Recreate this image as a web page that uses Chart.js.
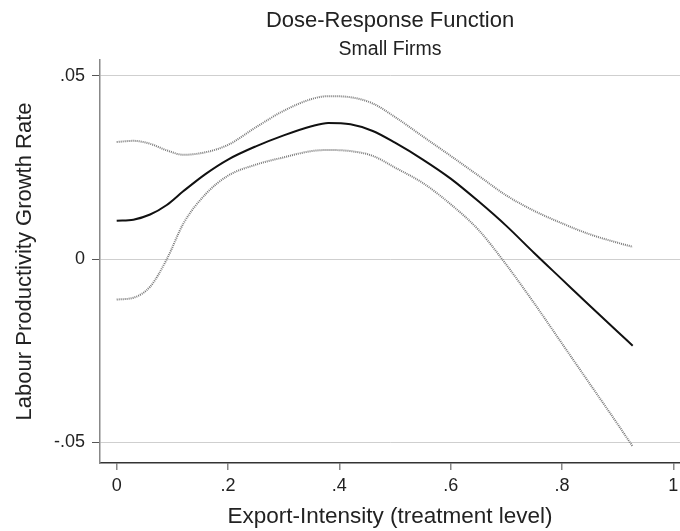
<!DOCTYPE html>
<html>
<head>
<meta charset="utf-8">
<script src="https://cdn.jsdelivr.net/npm/chart.js@4"></script>
<style>
  html, body { margin: 0; padding: 0; background: #fff; }
  #wrap { width: 680px; height: 531px; }
</style>
</head>
<body>
<div id="wrap"><canvas id="doseChart"></canvas></div>
<script>
// treatment levels shared by all three curves
const treatment = [0, 0.03, 0.06, 0.09, 0.12, 0.16, 0.2, 0.25, 0.3, 0.35, 0.38, 0.42,
                   0.46, 0.5, 0.55, 0.6, 0.65, 0.7, 0.75, 0.8, 0.85, 0.9, 0.927];

const doseResponse = [0.0105, 0.0108, 0.0122, 0.0148, 0.0186, 0.0233, 0.0272, 0.0308,
                      0.0338, 0.0363, 0.0372, 0.0368, 0.0350, 0.0318, 0.0272, 0.0220,
                      0.0158, 0.0091, 0.0017, -0.0055, -0.0127, -0.0198, -0.0236];

const upperBound = [0.0320, 0.0323, 0.0315, 0.0297, 0.0285, 0.0292, 0.0312, 0.0360,
                    0.0405, 0.0437, 0.0445, 0.0442, 0.0425, 0.0388, 0.0335, 0.0282,
                    0.0228, 0.0174, 0.0132, 0.0098, 0.0068, 0.0045, 0.0034];

const lowerBound = [-0.0110, -0.0105, -0.0075, 0.0000, 0.0098, 0.0178, 0.0228, 0.0258,
                    0.0278, 0.0295, 0.0298, 0.0295, 0.0282, 0.0250, 0.0208, 0.0150,
                    0.0080, -0.0015, -0.0120, -0.0230, -0.0340, -0.0450, -0.0511];

const xTicks = [0, 0.2, 0.4, 0.6, 0.8, 1];
const yTicks = [-0.05, 0, 0.05];

const fmt = v => {
    if (Math.abs(v) < 1e-9) return '0';
    let s = String(+v.toFixed(3));
    return s.replace('0.', '.');
};

const toPoints = ys => treatment.map((x, i) => ({ x: x, y: ys[i] }));

Chart.defaults.font.family = 'Liberation Sans, Arial, sans-serif';
Chart.defaults.color = '#222';

const ctx = document.getElementById('doseChart').getContext('2d');

new Chart(ctx, {
    type: 'line',
    data: {
        datasets: [
            {
                label: 'Upper',
                data: toPoints(upperBound),
                borderColor: '#7a7a7a',
                borderWidth: 2,
                borderDash: [1, 1],
                pointRadius: 0,
                cubicInterpolationMode: 'monotone'
            },
            {
                label: 'Dose-Response',
                data: toPoints(doseResponse),
                borderColor: '#111',
                borderWidth: 2,
                pointRadius: 0,
                cubicInterpolationMode: 'monotone'
            },
            {
                label: 'Lower',
                data: toPoints(lowerBound),
                borderColor: '#7a7a7a',
                borderWidth: 2,
                borderDash: [1, 1],
                pointRadius: 0,
                cubicInterpolationMode: 'monotone'
            }
        ]
    },
    options: {
        responsive: true,
        maintainAspectRatio: false,
        animation: false,
        layout: { padding: 0 },
        plugins: {
            legend: { display: false },
            tooltip: { enabled: false },
            title: {
                display: true,
                fullSize: false,
                text: 'Dose-Response Function',
                color: '#222',
                font: { size: 22, weight: 'normal', lineHeight: 1.2 },
                padding: { top: 8, bottom: 4 }
            },
            subtitle: {
                display: true,
                fullSize: false,
                text: 'Small Firms',
                color: '#222',
                font: { size: 19.5, weight: 'normal', lineHeight: 1.1 },
                padding: { top: 0, bottom: 0 }
            }
        },
        scales: {
            x: {
                type: 'linear',
                min: -0.03,
                max: 1.012,
                afterFit: s => {
                    s.height = 68;
                    s.paddingLeft = 0;
                    s.paddingRight = 0;
                },
                afterBuildTicks: s => { s.ticks = xTicks.map(v => ({ value: v })); },
                ticks: {
                    callback: v => fmt(v),
                    font: { size: 18 },
                    color: '#222',
                    padding: 5
                },
                grid: {
                    drawOnChartArea: false,
                    drawTicks: true,
                    tickLength: 7,
                    tickColor: '#888',
                    lineWidth: 1.5
                },
                border: { color: '#333', width: 1.5 },
                title: {
                    display: true,
                    text: 'Export-Intensity (treatment level)',
                    color: '#222',
                    font: { size: 22.5, lineHeight: 1.2 },
                    padding: { top: 0, bottom: 1 }
                }
            },
            y: {
                min: -0.0556,
                max: 0.0544,
                afterFit: s => { s.width = 100; },
                afterBuildTicks: s => { s.ticks = yTicks.map(v => ({ value: v })); },
                ticks: {
                    callback: v => fmt(v),
                    font: { size: 18 },
                    color: '#222',
                    padding: 7
                },
                grid: {
                    color: '#cfcfcf',
                    lineWidth: 1,
                    tickLength: 8,
                    tickColor: '#555'
                },
                border: { color: '#888', width: 1.5 },
                title: {
                    display: true,
                    text: 'Labour Productivity Growth Rate',
                    color: '#222',
                    font: { size: 22, lineHeight: 1.2 },
                    padding: { top: 12, bottom: 0 }
                }
            }
        }
    }
});
</script>
</body>
</html>
